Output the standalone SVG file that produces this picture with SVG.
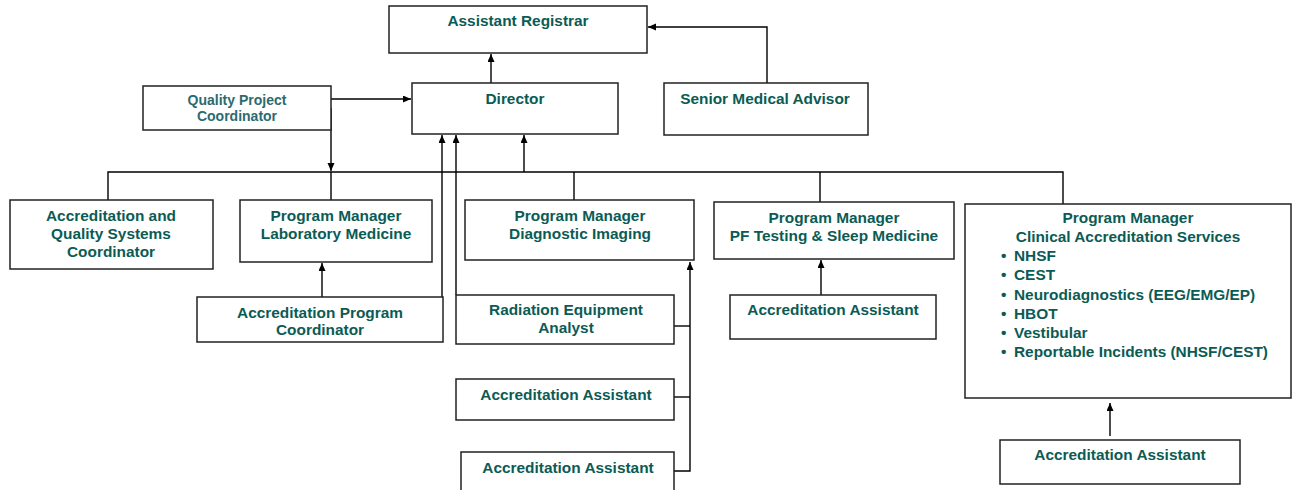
<svg xmlns="http://www.w3.org/2000/svg" width="1297" height="490" viewBox="0 0 1297 490">
<defs>
<style>
.box{fill:#fff;stroke:#222;stroke-width:1.5}
.t{font-family:"Liberation Sans",Arial,sans-serif;font-weight:bold;font-size:15.4px;fill:#0b5b55;text-anchor:middle}
.ts{font-size:14px;fill:#2d6a70}
.tl{text-anchor:start}
.c{fill:none;stroke:#000;stroke-width:1.4}
</style>
<marker id="ah" markerWidth="9" markerHeight="8" refX="8" refY="3.5" orient="auto" markerUnits="userSpaceOnUse">
<path d="M0,0 L8,3.5 L0,7 z" fill="#000"/>
</marker>
</defs>
<rect width="1297" height="490" fill="#fff"/>
<g id="connectors">
<path class="c" d="M491 83 V54" marker-end="url(#ah)"/>
<path class="c" d="M767 83 V27 H648" marker-end="url(#ah)"/>
<path class="c" d="M331 99 H411" marker-end="url(#ah)"/>
<path class="c" d="M331 108 V171" marker-end="url(#ah)"/>
<path class="c" d="M108 200 V172 H1063 V204"/>
<path class="c" d="M331 172 V200"/>
<path class="c" d="M574 172 V200"/>
<path class="c" d="M820 172 V202"/>
<path class="c" d="M524 172 V135" marker-end="url(#ah)"/>
<path class="c" d="M442 333 V135" marker-end="url(#ah)"/>
<path class="c" d="M456 295 V135" marker-end="url(#ah)"/>
<path class="c" d="M322 297 V263" marker-end="url(#ah)"/>
<path class="c" d="M674 326 H690"/>
<path class="c" d="M674 397 H690"/>
<path class="c" d="M674 471 H690 V262" marker-end="url(#ah)"/>
<path class="c" d="M821 295 V260" marker-end="url(#ah)"/>
<path class="c" d="M1110 436 V403" marker-end="url(#ah)"/>
</g>
<g id="assistant-registrar"><rect class="box" x="389" y="6" width="258" height="47"/><text class="t" x="518" y="26">Assistant Registrar</text></g>
<g id="director"><rect class="box" x="412" y="83" width="206" height="51"/><text class="t" x="515" y="104">Director</text></g>
<g id="quality-project-coordinator"><rect class="box" x="143" y="86" width="188" height="44"/><text class="t ts" x="237" y="105">Quality Project</text><text class="t ts" x="237" y="121">Coordinator</text></g>
<g id="senior-medical-advisor"><rect class="box" x="664" y="83" width="204" height="52"/><text class="t" x="765" y="104">Senior Medical Advisor</text></g>
<g id="aqsc"><rect class="box" x="10" y="200" width="203" height="69"/><text class="t" x="111" y="221">Accreditation and</text><text class="t" x="111" y="239">Quality Systems</text><text class="t" x="111" y="257">Coordinator</text></g>
<g id="pm-lab"><rect class="box" x="240" y="200" width="192" height="62"/><text class="t" x="336" y="221">Program Manager</text><text class="t" x="336" y="239">Laboratory Medicine</text></g>
<g id="pm-diag"><rect class="box" x="465" y="200" width="229" height="60"/><text class="t" x="580" y="221">Program Manager</text><text class="t" x="580" y="239">Diagnostic Imaging</text></g>
<g id="pm-pf"><rect class="box" x="714" y="202" width="240" height="57"/><text class="t" x="834" y="223">Program Manager</text><text class="t" x="834" y="241">PF Testing &amp; Sleep Medicine</text></g>
<g id="pm-clinical"><rect class="box" x="965" y="204" width="326" height="194"/>
<text class="t" x="1128" y="223">Program Manager</text><text class="t" x="1128" y="242">Clinical Accreditation Services</text>
<text class="t tl" x="1001" y="261">•</text><text class="t tl" x="1014" y="261">NHSF</text>
<text class="t tl" x="1001" y="280">•</text><text class="t tl" x="1014" y="280">CEST</text>
<text class="t tl" x="1001" y="299.5">•</text><text class="t tl" x="1014" y="299.5">Neurodiagnostics (EEG/EMG/EP)</text>
<text class="t tl" x="1001" y="318.5">•</text><text class="t tl" x="1014" y="318.5">HBOT</text>
<text class="t tl" x="1001" y="338">•</text><text class="t tl" x="1014" y="338">Vestibular</text>
<text class="t tl" x="1001" y="357">•</text><text class="t tl" x="1014" y="357">Reportable Incidents (NHSF/CEST)</text>
</g>
<g id="acc-program-coordinator"><rect class="box" x="197" y="297" width="246" height="45"/><text class="t" x="320" y="318">Accreditation Program</text><text class="t" x="320" y="335">Coordinator</text></g>
<g id="radiation-analyst"><rect class="box" x="456" y="295" width="218" height="49"/><text class="t" x="566" y="315">Radiation Equipment</text><text class="t" x="566" y="333">Analyst</text></g>
<g id="acc-assistant-1"><rect class="box" x="456" y="379" width="218" height="41"/><text class="t" x="566" y="400">Accreditation Assistant</text></g>
<g id="acc-assistant-2"><rect class="box" x="461" y="452" width="213" height="45"/><text class="t" x="568" y="473">Accreditation Assistant</text></g>
<g id="acc-assistant-pf"><rect class="box" x="730" y="295" width="206" height="44"/><text class="t" x="833" y="315">Accreditation Assistant</text></g>
<g id="acc-assistant-clinical"><rect class="box" x="1000" y="440" width="240" height="44"/><text class="t" x="1120" y="460">Accreditation Assistant</text></g>
</svg>
